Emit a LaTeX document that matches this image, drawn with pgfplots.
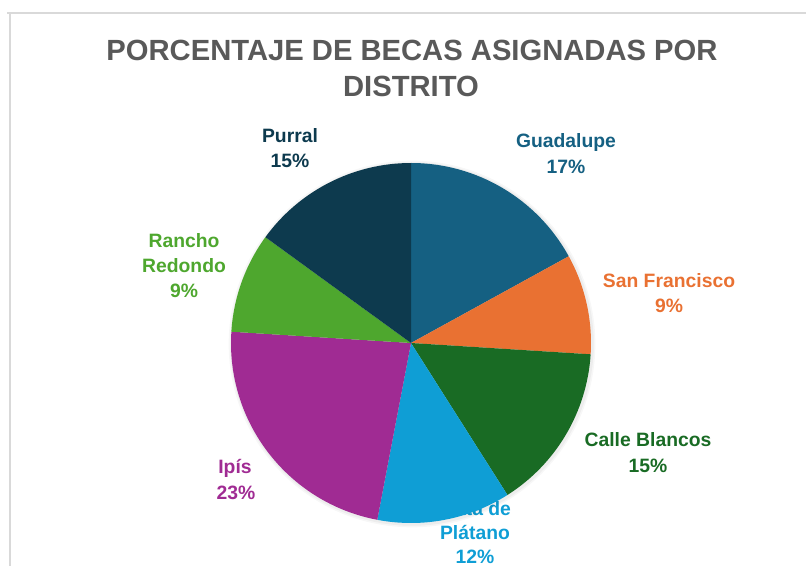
\documentclass[border=0pt]{standalone}
\usepackage{pgfplots}
\pgfplotsset{compat=1.18}
\usepackage{pgfplotstable}
\usepackage{fontspec}
\setmainfont{Liberation Sans}

\definecolor{cGuad}{HTML}{156082}
\definecolor{cSanF}{HTML}{E97132}
\definecolor{cCalle}{HTML}{196B24}
\definecolor{cMata}{HTML}{0F9ED5}
\definecolor{cIpis}{HTML}{A02B93}
\definecolor{cRancho}{HTML}{4EA72E}
\definecolor{cPurral}{HTML}{0D3A4E}
\definecolor{titlegray}{HTML}{595959}
\definecolor{framegray}{HTML}{D9D9D9}

% share of scholarships per district, clockwise from 12 o'clock
\pgfplotstableread{
name     value color
Guadalupe  17  cGuad
SanFco      9  cSanF
Calle      15  cCalle
Mata       12  cMata
Ipis       23  cIpis
Rancho      9  cRancho
Purral     15  cPurral
}\pietable

\newcommand{\lbl}[4]{\node[anchor=base,inner sep=0pt,text=#3,font=\fontsize{14.5}{17}\selectfont\bfseries] at (axis cs:#1,#2) {#4};}

\begin{document}
\begin{tikzpicture}
\begin{axis}[
  hide axis,
  scale only axis,
  width=604.5pt, height=424.5pt,
  xmin=0, xmax=806, ymin=0, ymax=566,
  y dir=reverse,
  clip=false,
]
\coordinate (bl) at (axis cs:0,566);
\coordinate (tr) at (axis cs:806,0);

% frame of the chart area
\draw[framegray,line width=1.5pt] (axis cs:7,13) -- (axis cs:806,13);
\draw[framegray,line width=1.5pt] (axis cs:10,13) -- (axis cs:10,566);

% title
\node[anchor=base,text=titlegray,font=\fontsize{21.9}{26}\selectfont\bfseries] at (axis cs:412,61) {PORCENTAJE DE BECAS ASIGNADAS POR};
\node[anchor=base,text=titlegray,font=\fontsize{21.9}{26}\selectfont\bfseries] at (axis cs:411,97) {DISTRITO};

% data labels (drawn first: the pie covers part of one of them)
\lbl{566}{147.5}{cGuad}{Guadalupe}
\lbl{566}{173.5}{cGuad}{17\%}
\lbl{669}{288}{cSanF}{San Francisco}
\lbl{669}{313}{cSanF}{9\%}
\lbl{648}{446}{cCalle}{Calle Blancos}
\lbl{648}{472}{cCalle}{15\%}
\lbl{475}{515}{cMata}{Mata de}
\lbl{475}{539.5}{cMata}{Plátano}
\lbl{475}{563.5}{cMata}{12\%}
\lbl{235}{473}{cIpis}{Ipís}
\lbl{236}{499}{cIpis}{23\%}
\lbl{184}{248}{cRancho}{Rancho}
\lbl{184}{273}{cRancho}{Redondo}
\lbl{184}{298}{cRancho}{9\%}
\lbl{290}{143}{cPurral}{Purral}
\lbl{290}{168}{cPurral}{15\%}

% soft shadow
\fill[black,opacity=0.03] (axis cs:412,344) circle[radius=137.5pt];
\fill[black,opacity=0.04] (axis cs:412,344) circle[radius=136.3pt];

% slices
\pgfplotstablegetrowsof{\pietable}
\pgfmathtruncatemacro\nrows{\pgfplotsretval-1}
\gdef\angA{90}
\pgfplotsforeachungrouped \i in {0,...,\nrows}{
  \pgfplotstablegetelem{\i}{value}\of\pietable
  \let\val=\pgfplotsretval
  \pgfplotstablegetelem{\i}{color}\of\pietable
  \let\col=\pgfplotsretval
  \pgfmathsetmacro\angB{\angA-3.6*\val}
  \edef\temp{\noexpand\fill[\col] (axis cs:411,343) -- ++(\angA:135pt)
    arc[start angle=\angA, end angle=\angB, radius=135pt] -- cycle;}
  \temp
  \global\let\angA=\angB
}
\end{axis}
\pgfresetboundingbox
\useasboundingbox (bl) rectangle (tr);
\end{tikzpicture}
\end{document}
